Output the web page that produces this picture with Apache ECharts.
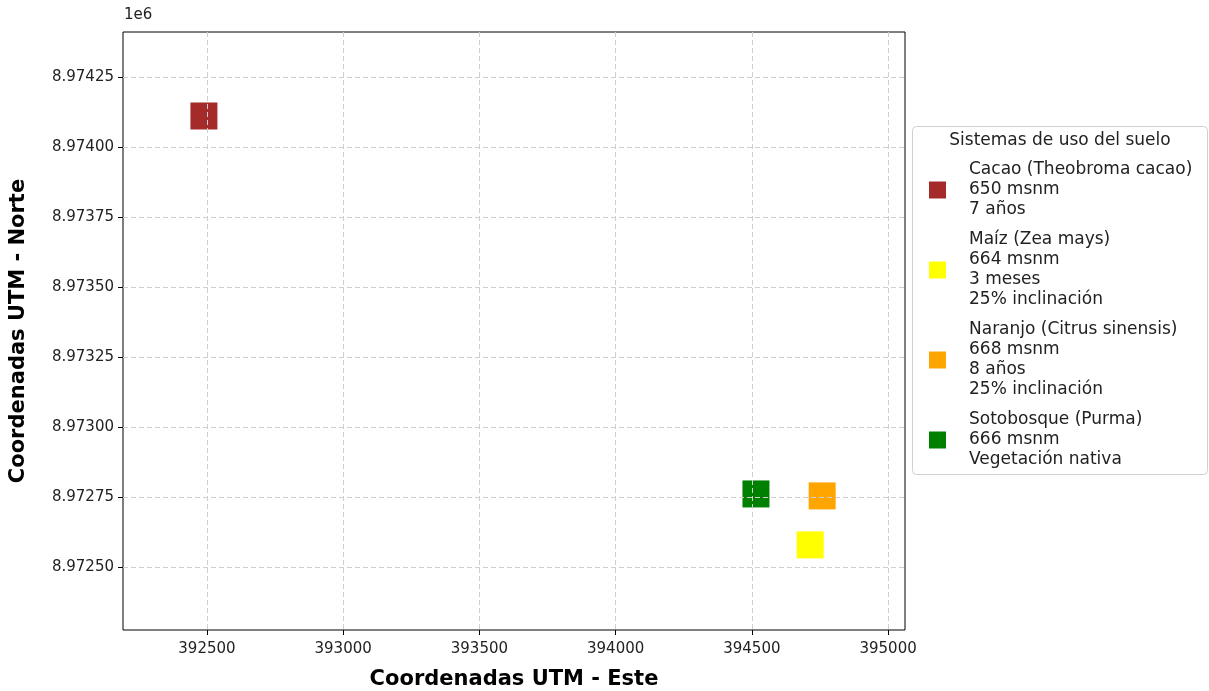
<!DOCTYPE html>
<html><head><meta charset="utf-8">
<script src="https://cdn.jsdelivr.net/npm/echarts@6/dist/echarts.min.js"></script>
<style>html,body{margin:0;padding:0;background:#fff}#c{width:1209px;height:691px}</style>
</head><body><div id="c"></div>
<script>
const seriesNames = [
  "Cacao (Theobroma cacao)\n650 msnm\n7 años",
  "Maíz (Zea mays)\n664 msnm\n3 meses\n25% inclinación",
  "Naranjo (Citrus sinensis)\n668 msnm\n8 años\n25% inclinación",
  "Sotobosque (Purma)\n666 msnm\nVegetación nativa"
];
const este = [392489, 394714, 394758, 394515];
const norte = [8974111, 8972579, 8972754, 8972761];
const colors = ["#a52a2a", "#ffff00", "#ffa500", "#008000"];
const xTicks = [392500, 393000, 393500, 394000, 394500, 395000];
const yTicks = [8972500, 8972750, 8973000, 8973250, 8973500, 8973750, 8974000, 8974250];

const font = "DejaVu Sans";
const chart = echarts.init(document.getElementById('c'));
chart.setOption({
  animation: false,
  grid: {left: 123, top: 32, right: 304, bottom: 61, outerBoundsMode: 'none', containLabel: false,
    show: true, borderColor: '#000', borderWidth: 1, backgroundColor: 'transparent'},
  xAxis: {
    type: 'value', min: 392192, max: 395062, z: 3,
    name: 'Coordenadas UTM - Este', nameLocation: 'middle', nameGap: 39,
    nameTextStyle: {fontFamily: font, fontWeight: 'bold', fontSize: 21, color: '#000'},
    axisLine: {show: false},
    axisTick: {show: true, customValues: xTicks, length: 5, lineStyle: {color: '#000'}},
    axisLabel: {customValues: xTicks, fontFamily: font, fontSize: 15, color: '#222', margin: 12,
      formatter: v => String(v)},
    splitLine: {show: true, lineStyle: {color: '#cfcfcf', type: [5, 3], width: 1}}
  },
  yAxis: {
    type: 'value', min: 8972275, max: 8974411, z: 3,
    name: 'Coordenadas UTM - Norte', nameLocation: 'middle', nameGap: 94, nameRotate: 90,
    nameTextStyle: {fontFamily: font, fontWeight: 'bold', fontSize: 21, color: '#000'},
    axisLine: {show: false},
    axisTick: {show: true, customValues: yTicks, length: 5, lineStyle: {color: '#000'}},
    axisLabel: {customValues: yTicks, fontFamily: font, fontSize: 15, color: '#222', margin: 9,
      formatter: v => (v / 1e6).toFixed(5)},
    splitLine: {show: true, lineStyle: {color: '#cfcfcf', type: [5, 3], width: 1}}
  },
  legend: {
    orient: 'vertical', left: 929, top: 160, padding: 0,
    icon: 'rect', itemWidth: 17, itemHeight: 17, itemGap: 10,
    textStyle: {fontFamily: font, fontSize: 17, color: '#222', lineHeight: 20, padding: [0, 0, 0, 18]},
    data: seriesNames
  },
  graphic: [
    {type: 'rect', left: 912, top: 126, shape: {width: 295, height: 348, r: 4},
     style: {fill: '#fff', stroke: '#d0d0d0', lineWidth: 1}, z: -1},
    {type: 'text', x: 1060, y: 141, style: {text: 'Sistemas de uso del suelo', fontFamily: font, fontSize: 17, fill: '#222', align: 'center', verticalAlign: 'middle'}},
    {type: 'text', left: 124, top: 8, style: {text: '1e6', fontFamily: font, fontSize: 15, fill: '#222'}}
  ],
  series: seriesNames.map((n, i) => ({
    name: n, type: 'scatter', symbol: 'rect', symbolSize: 27, z: 2,
    itemStyle: {color: colors[i], opacity: 1},
    data: [[este[i], norte[i]]]
  }))
});
</script></body></html>
